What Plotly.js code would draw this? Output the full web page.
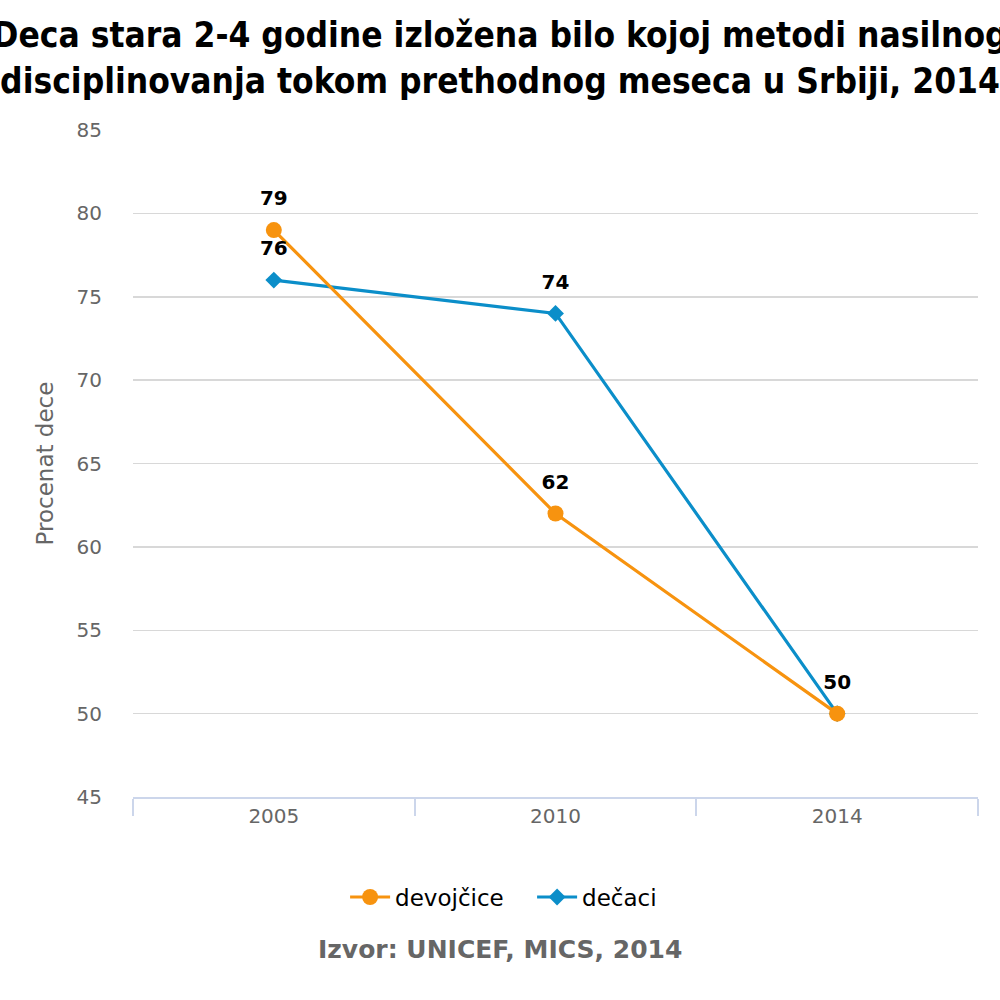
<!DOCTYPE html>
<html>
<head>
<meta charset="utf-8">
<script src="https://cdn.plot.ly/plotly-3.0.1.min.js"></script>
<style>html,body{margin:0;padding:0;background:#fff;}#chart{width:1000px;height:1000px;}</style>
</head>
<body>
<div id="chart"></div>
<script>
var years = ["2005", "2010", "2014"];
var devojcice = [79, 62, 50];
var decaci = [76, 74, 50];
var devojciceLabels = ["79", "62", "50"];
var decaciLabels = ["76", "74", ""];

var labelFont = {family: "DejaVu Sans", size: 20, color: "#000", weight: "bold"};
var orange = "#f7930f";
var blue = "#0b8ec9";

var traces = [
  {
    x: years, y: decaci, name: "dečaci", type: "scatter", mode: "lines+markers",
    line: {color: blue, width: 3.2},
    marker: {symbol: "diamond", size: 13, color: blue},
    legendrank: 2, cliponaxis: false, hoverinfo: "x+y"
  },
  {
    x: years, y: devojcice, name: "devojčice", type: "scatter", mode: "lines+markers",
    line: {color: orange, width: 3.2},
    marker: {symbol: "circle", size: 16, color: orange},
    legendrank: 1, cliponaxis: false, hoverinfo: "x+y"
  },
  {
    x: years, y: decaci, type: "scatter", mode: "markers+text", showlegend: false,
    marker: {size: 30, opacity: 0}, text: decaciLabels, textposition: "top center",
    textfont: labelFont, cliponaxis: false, hoverinfo: "skip"
  },
  {
    x: years, y: devojcice, type: "scatter", mode: "markers+text", showlegend: false,
    marker: {size: 30, opacity: 0}, text: devojciceLabels, textposition: "top center",
    textfont: labelFont, cliponaxis: false, hoverinfo: "skip"
  }
];

var layout = {
  width: 1000, height: 1000,
  margin: {l: 133, r: 22, t: 130, b: 203},
  paper_bgcolor: "#fff", plot_bgcolor: "#fff",
  font: {family: "DejaVu Sans", color: "#666"},
  title: {
    text: "<b>Deca stara 2-4 godine izložena bilo kojoj metodi nasilnog<br>disciplinovanja tokom prethodnog meseca u Srbiji, 2014</b>",
    font: {family: "DejaVu Sans Condensed, DejaVu Sans", size: 35, color: "#000"},
    x: 0.5, xref: "container", xanchor: "center", y: 0.953, yanchor: "top", yref: "container"
  },
  xaxis: {
    type: "category", range: [-0.5, 2.5], fixedrange: true,
    showgrid: false, zeroline: false,
    showline: true, linecolor: "#ccd6eb", linewidth: 2,
    ticks: "outside", tickson: "boundaries", ticklen: 17, tickcolor: "#ccd6eb", tickwidth: 2,
    tickfont: {size: 20, color: "#666"}
  },
  yaxis: {
    range: [45, 85], dtick: 5, tick0: 45, fixedrange: true,
    showgrid: true, gridcolor: "#d8d8d8", gridwidth: 1.5,
    zeroline: false, showline: false,
    tickfont: {size: 20, color: "#666"},
    ticklabelstandoff: 30,
    title: {text: "Procenat dece", font: {size: 23, color: "#666"}, standoff: 16}
  },
  showlegend: true,
  legend: {
    orientation: "h", x: 0.251, xanchor: "left", y: -0.15, yanchor: "middle",
    font: {size: 23, color: "#000"}, traceorder: "normal", itemwidth: 40,
    entrywidth: 132, entrywidthmode: "pixels"
  },
  annotations: [{
    text: "<b>Izvor: UNICEF, MICS, 2014</b>", xref: "paper", yref: "paper",
    x: 0.434, xanchor: "center", y: -0.229, yanchor: "middle", showarrow: false,
    font: {family: "DejaVu Sans", size: 25, color: "#666"}
  }]
};

Plotly.newPlot("chart", traces, layout, {displayModeBar: false, staticPlot: true});
</script>
</body>
</html>
